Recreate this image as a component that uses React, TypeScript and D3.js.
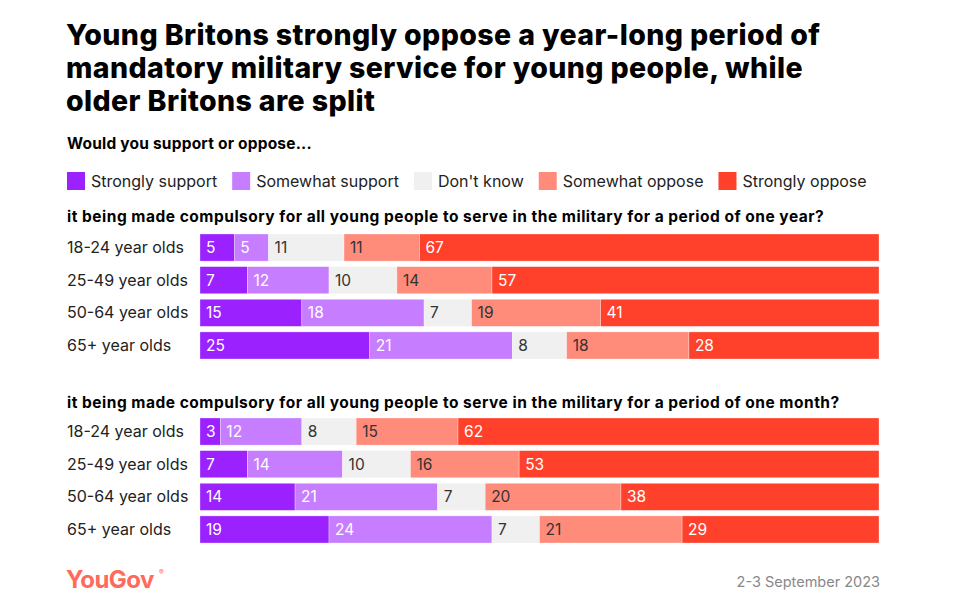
import * as d3 from 'd3';
import React, { useEffect, useRef } from 'react';

const responses = ['Strongly support', 'Somewhat support', "Don't know", 'Somewhat oppose', 'Strongly oppose'];
const colors = ['#9b22ff', '#c77dff', '#f0f0f0', '#ff8b7b', '#ff412c'];
const textColors = ['#ffffff', '#ffffff', '#333333', '#333333', '#ffffff'];
const ageGroups = ['18-24 year olds', '25-49 year olds', '50-64 year olds', '65+ year olds'];

const yearValues = [
  [5, 5, 11, 11, 67],
  [7, 12, 10, 14, 57],
  [15, 18, 7, 19, 41],
  [25, 21, 8, 18, 28],
];
const monthValues = [
  [3, 12, 8, 15, 62],
  [7, 14, 10, 16, 53],
  [14, 21, 7, 20, 38],
  [19, 24, 7, 21, 29],
];

const titleLines = [
  'Young Britons strongly oppose a year-long period of',
  'mandatory military service for young people, while',
  'older Britons are split',
];
const questionYear = 'it being made compulsory for all young people to serve in the military for a period of one year?';
const questionMonth = 'it being made compulsory for all young people to serve in the military for a period of one month?';

const FONT = 'Inter, "Open Sans", sans-serif';

export default function App() {
  const ref = useRef<SVGSVGElement>(null);

  useEffect(() => {
    if (!ref.current) return;
    const svg = d3.select(ref.current);
    svg.selectAll('*').remove();

    // Title
    svg
      .append('g')
      .selectAll('text')
      .data(titleLines)
      .enter()
      .append('text')
      .attr('x', 66)
      .attr('y', (d, i) => 45 + i * 33)
      .attr('font-family', FONT)
      .attr('font-weight', 800)
      .attr('font-size', 28.5)
      .attr('letter-spacing', 0.4)
      .attr('fill', '#000')
      .text(d => d);

    svg
      .append('text')
      .attr('x', 67)
      .attr('y', 149)
      .attr('font-family', FONT)
      .attr('font-weight', 700)
      .attr('font-size', 15.5)
      .attr('letter-spacing', 0.2)
      .attr('fill', '#000')
      .text('Would you support or oppose...');

    // Legend
    const legend = svg.append('g').attr('transform', 'translate(67,172)');
    let lx = 0;
    responses.forEach((r, i) => {
      const g = legend.append('g').attr('transform', `translate(${lx},0)`);
      g.append('rect').attr('width', 18).attr('height', 18).attr('fill', colors[i]);
      const t = g
        .append('text')
        .attr('x', 24)
        .attr('y', 14.5)
        .attr('font-family', FONT)
        .attr('font-size', 16)
        .attr('fill', '#222')
        .text(r);
      const w = (t.node() as SVGTextElement).getComputedTextLength();
      lx += 24 + w + 15;
    });

    const x = d3.scaleLinear().domain([0, 1]).range([200, 879]);

    const drawGroup = (question: string, values: number[][], qy: number, top: number) => {
      svg
        .append('text')
        .attr('x', 67)
        .attr('y', qy)
        .attr('font-family', FONT)
        .attr('font-weight', 700)
        .attr('font-size', 15.5)
        .attr('letter-spacing', 0.5)
        .attr('fill', '#000')
        .text(question);

      const y = d3
        .scaleBand<string>()
        .domain(ageGroups)
        .range([top, top + 125])
        .paddingInner(0.17)
        .paddingOuter(0);

      const rows = values.map((v, i) => {
        const o: Record<string, any> = { group: ageGroups[i] };
        responses.forEach((r, j) => (o[r] = v[j]));
        return o;
      });
      const series = d3.stack<any>().keys(responses).offset(d3.stackOffsetExpand)(rows);

      const g = svg.append('g');
      g.selectAll('text.row')
        .data(ageGroups)
        .enter()
        .append('text')
        .attr('x', 67)
        .attr('y', d => (y(d) ?? 0) + y.bandwidth() / 2)
        .attr('dy', '0.35em')
        .attr('font-family', FONT)
        .attr('font-size', 16)
        .attr('fill', '#222')
        .text(d => d);

      series.forEach((s, j) => {
        const sg = g.append('g');
        sg.selectAll('rect')
          .data(s)
          .enter()
          .append('rect')
          .attr('x', d => x(d[0]))
          .attr('y', d => y(d.data.group) ?? 0)
          .attr('width', d => x(d[1]) - x(d[0]))
          .attr('height', y.bandwidth())
          .attr('fill', colors[j])
          .attr('stroke', '#ffffff')
          .attr('stroke-opacity', 0.5)
          .attr('stroke-width', 0.6);
        sg.selectAll('text')
          .data(s)
          .enter()
          .append('text')
          .attr('x', d => x(d[0]) + 6)
          .attr('y', d => (y(d.data.group) ?? 0) + y.bandwidth() / 2)
          .attr('dy', '0.36em')
          .attr('font-family', FONT)
          .attr('font-size', 15.5)
          .attr('fill', textColors[j])
          .text(d => d.data[responses[j]]);
      });
    };

    drawGroup(questionYear, yearValues, 222, 234);
    drawGroup(questionMonth, monthValues, 408, 418);

    // Footer
    svg
      .append('text')
      .attr('x', 66)
      .attr('y', 588)
      .attr('font-family', FONT)
      .attr('font-weight', 700)
      .attr('font-size', 24)
      .attr('letter-spacing', -0.6)
      .attr('fill', '#ff6b5b')
      .text('YouGov');
    svg
      .append('text')
      .attr('x', 159)
      .attr('y', 575)
      .attr('font-family', FONT)
      .attr('font-size', 7)
      .attr('fill', '#ff6b5b')
      .text('®');
    svg
      .append('text')
      .attr('x', 880)
      .attr('y', 587)
      .attr('text-anchor', 'end')
      .attr('font-family', FONT)
      .attr('font-size', 14.5)
      .attr('fill', '#888')
      .text('2-3 September 2023');
  }, []);

  return (
    <svg
      ref={ref}
      width={960}
      height={604}
      style={{ position: 'absolute', left: 0, top: 0, background: '#fff' }}
    />
  );
}
